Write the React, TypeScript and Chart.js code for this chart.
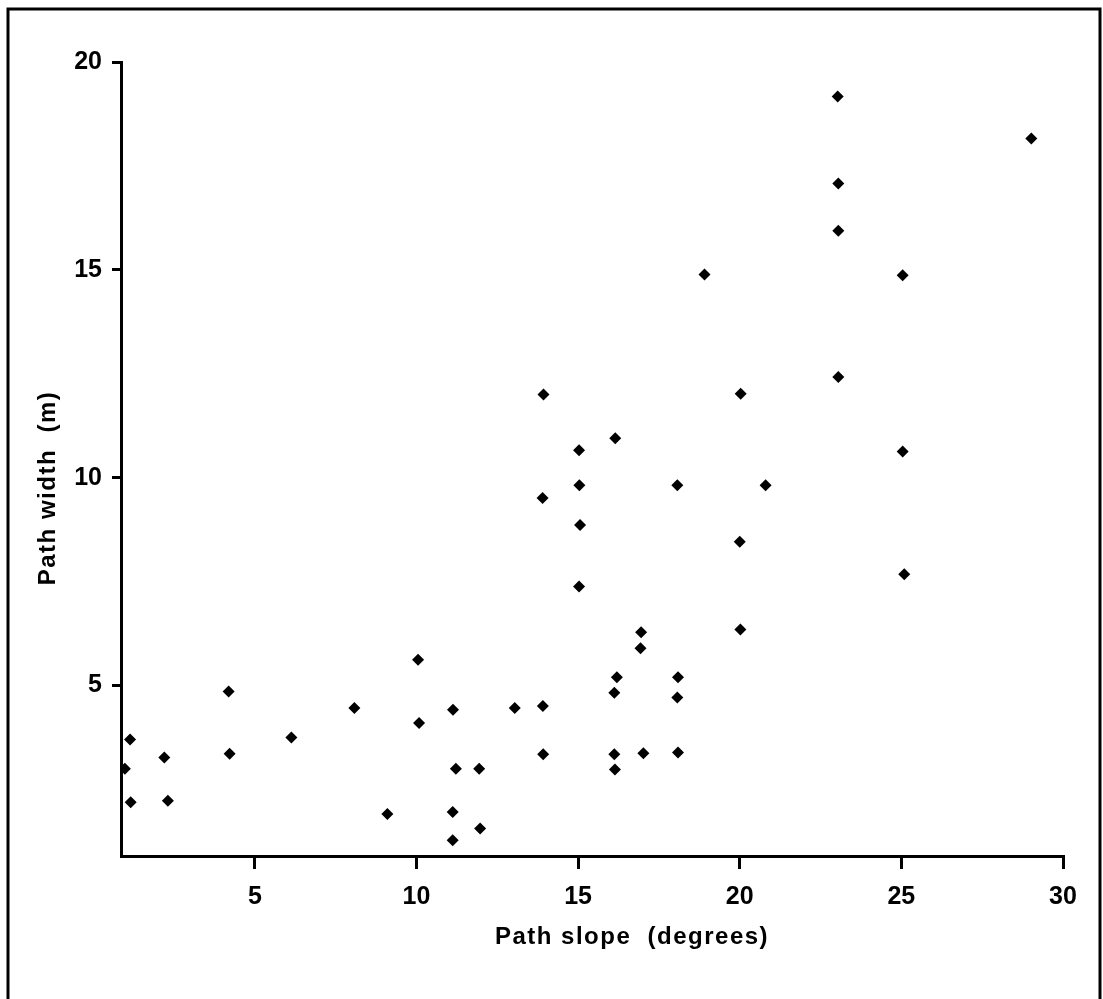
import React, { useEffect, useRef } from "react";
import { Chart, registerables } from "chart.js";

Chart.register(...registerables);

// Path slope (degrees) and path width (m)
const slopeDeg = [
  1.14, 0.98, 1.16, 2.2, 2.31, 4.19, 4.22, 6.13, 8.08, 10.05, 10.08, 9.1,
  15.04, 13.9, 18.07, 15.06, 20.0, 15.03, 16.95, 16.93, 20.02, 16.2, 16.12,
  18.09, 18.07, 11.13, 13.04, 13.91, 13.92, 16.12, 17.02, 18.09, 11.22,
  11.94, 16.14, 11.12, 11.97, 11.12, 20.8, 25.09, 18.91, 13.93, 20.03,
  16.15, 15.03, 23.03, 29.02, 23.05, 23.05, 25.04, 23.05, 25.04,
];
const widthM = [
  3.7, 3.0, 2.19, 3.27, 2.23, 4.86, 3.36, 3.75, 4.46, 5.62, 4.1, 1.91,
  9.82, 9.51, 9.82, 8.86, 8.46, 7.38, 6.28, 5.9, 6.35, 5.2, 4.83,
  5.2, 4.71, 4.42, 4.46, 4.51, 3.35, 3.35, 3.37, 3.39, 3.0,
  3.0, 2.98, 1.96, 1.56, 1.28, 9.82, 7.68, 14.89, 12.0, 12.02,
  10.95, 10.66, 19.17, 18.16, 17.08, 15.94, 14.87, 12.42, 10.63,
];

const xTickValues = [5, 10, 15, 20, 25, 30];
const yTickValues = [5, 10, 15, 20];
const xMin = 0.86;
const xMax = 30;
const yMin = 0.9;
const yMax = 20;

const xTitle = "Path slope  (degrees)";
const yTitle = "Path width  (m)";

const FONT = "'Liberation Sans', Arial, sans-serif";

export default function App() {
  const ref = useRef<HTMLCanvasElement>(null);

  useEffect(() => {
    if (!ref.current) return;

    const decorPlugin = {
      id: "decor",
      afterDraw(chart: any) {
        const ctx = chart.ctx as any;
        ctx.save();
        // page frame
        ctx.strokeStyle = "#000";
        ctx.lineWidth = 3;
        ctx.beginPath();
        ctx.moveTo(8, 999);
        ctx.lineTo(8, 9);
        ctx.lineTo(1100, 9);
        ctx.lineTo(1100, 999);
        ctx.stroke();
        // axis titles
        ctx.fillStyle = "#000";
        ctx.font = `bold 24px ${FONT}`;
        ctx.letterSpacing = "1.5px";
        ctx.textAlign = "center";
        ctx.textBaseline = "middle";
        ctx.fillText(xTitle, 632, 937);
        ctx.translate(48, 488);
        ctx.rotate(-Math.PI / 2);
        ctx.fillText(yTitle, 0, 0);
        ctx.restore();
      },
    };

    const chart = new Chart(ref.current, {
      type: "scatter",
      data: {
        datasets: [
          {
            data: slopeDeg.map((x, i) => ({ x, y: widthM[i] })),
            pointStyle: "rectRot",
            pointRadius: 6,
            backgroundColor: "#000",
            borderColor: "#000",
            borderWidth: 0,
          },
        ],
      },
      options: {
        responsive: false,
        animation: false,
        layout: { padding: { left: 0, right: 40, top: 62, bottom: 0 } },
        plugins: {
          legend: { display: false },
          tooltip: { enabled: false },
        },
        scales: {
          x: {
            type: "linear",
            min: xMin,
            max: xMax,
            afterFit: (s: any) => {
              s.height = 143;
            },
            afterBuildTicks: (s: any) => {
              s.ticks = xTickValues.map((v) => ({ value: v }));
            },
            ticks: {
              color: "#000",
              font: { family: FONT, size: 25, weight: "bold" },
              padding: 13,
              maxRotation: 0,
              autoSkip: false,
            },
            grid: {
              drawOnChartArea: false,
              drawTicks: true,
              tickLength: 13,
              color: "#000",
              lineWidth: 3,
            },
            border: { display: true, color: "#000", width: 3 },
          },
          y: {
            type: "linear",
            min: yMin,
            max: yMax,
            afterFit: (s: any) => {
              s.width = 121;
            },
            afterBuildTicks: (s: any) => {
              s.ticks = yTickValues.map((v) => ({ value: v }));
            },
            ticks: {
              color: "#000",
              font: { family: FONT, size: 25, weight: "bold" },
              padding: 10,
              autoSkip: false,
            },
            grid: {
              drawOnChartArea: false,
              drawTicks: true,
              tickLength: 9,
              color: "#000",
              lineWidth: 3,
            },
            border: { display: true, color: "#000", width: 3 },
          },
        },
      },
      plugins: [decorPlugin],
    });

    return () => chart.destroy();
  }, []);

  return (
    <>
      <style>{`body{margin:0;background:#fff}`}</style>
      <div style={{ width: 1103, height: 999, position: "relative" }}>
        <canvas ref={ref} width={1103} height={999} style={{ display: "block" }} />
      </div>
    </>
  );
}
